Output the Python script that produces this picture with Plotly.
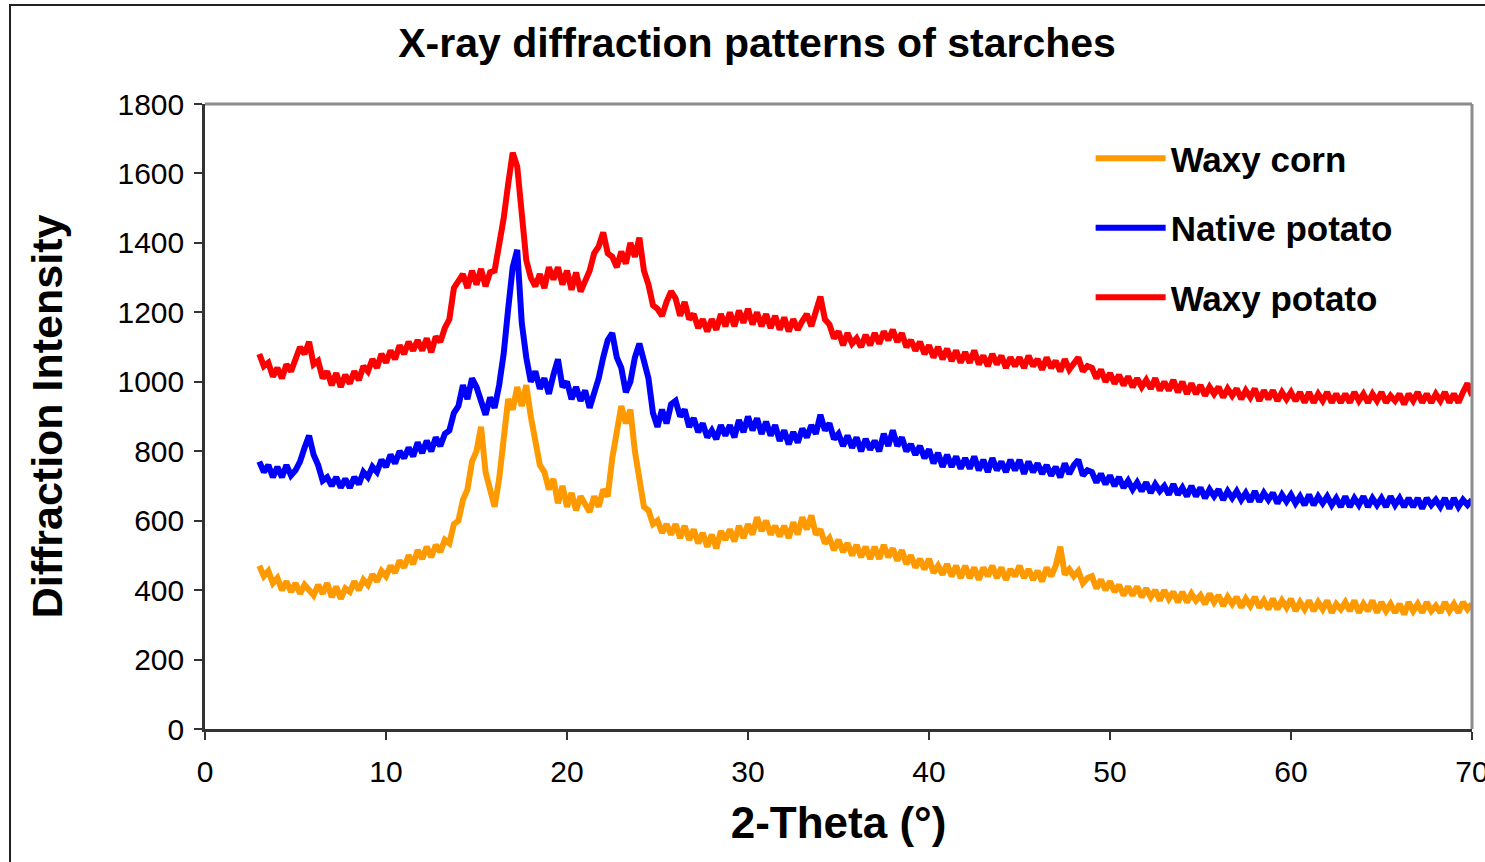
import numpy as np
import plotly.graph_objects as go

# 2-theta scan grid (degrees), 0.25 deg step
two_theta = np.round(np.arange(3.0, 70.001, 0.25), 2)

# intensities, four readings per degree
waxy_corn = [
    470, 440, 455, 420,
    435, 400, 425, 395,
    420, 390, 415, 400,
    385, 415, 390, 420,
    380, 410, 375, 405,
    395, 425, 400, 430,
    415, 445, 425, 455,
    440, 470, 450, 485,
    465, 500, 475, 515,
    490, 525, 495, 530,
    510, 545, 535, 590,
    600, 660, 690, 770,
    800, 870, 740, 690,
    640, 720, 830, 950,
    920, 985, 930, 990,
    900, 840, 760, 740,
    690, 720, 650, 700,
    640, 680, 630, 670,
    650, 625, 670, 640,
    690, 670, 780, 860,
    930, 880, 920, 800,
    710, 640, 630, 590,
    600, 565, 590, 560,
    590, 550, 585, 545,
    575, 535, 565, 525,
    560, 520, 570, 545,
    575, 540, 585, 550,
    590, 560, 610, 570,
    600, 560, 585, 555,
    585, 550, 595, 560,
    610, 575, 615, 560,
    575, 535, 550, 515,
    545, 510, 535, 500,
    530, 495, 525, 490,
    525, 490, 530, 495,
    520, 485, 515, 475,
    500, 465, 490, 460,
    490, 450, 470, 445,
    475, 440, 470, 435,
    470, 435, 465, 430,
    465, 440, 470, 435,
    465, 430, 460, 440,
    470, 435, 460, 430,
    455, 425, 465, 440,
    470, 525, 445, 460,
    440, 455, 420, 435,
    440, 405, 430, 400,
    425, 395, 415, 385,
    410, 385, 410, 380,
    405, 380, 400, 370,
    400, 375, 395, 365,
    395, 365, 390, 370,
    385, 360, 390, 365,
    385, 355, 380, 360,
    380, 350, 375, 355,
    380, 350, 370, 345,
    375, 345, 370, 350,
    375, 340, 365, 345,
    370, 340, 365, 345,
    370, 335, 360, 345,
    365, 340, 370, 335,
    360, 340, 370, 335,
    365, 340, 360, 335,
    360, 330, 365, 340,
    360, 335, 365, 340,
    355, 335, 365, 340,
    360, 335, 365, 345,
    360,
]

native_potato = [
    770, 740, 760, 725,
    755, 725, 760, 730,
    745, 770, 810, 845,
    790, 760, 715, 725,
    700, 725, 695, 720,
    695, 725, 705, 740,
    725, 755, 740, 775,
    755, 790, 765, 800,
    780, 810, 785, 825,
    795, 830, 800, 840,
    815, 850, 860, 910,
    930, 990, 950, 1010,
    985, 940, 905, 955,
    925, 990, 1080, 1210,
    1330, 1380, 1170, 1070,
    1000, 1030, 980, 1010,
    965, 1020, 1065, 985,
    1000, 950, 985, 945,
    975, 925, 965, 1010,
    1070, 1120, 1140, 1070,
    1040, 970, 1000, 1070,
    1110, 1050, 1010, 910,
    870, 920, 880, 935,
    945, 900, 920, 870,
    895, 855, 880, 840,
    860, 835, 875, 845,
    875, 840, 890, 855,
    900, 860, 895, 850,
    885, 845, 875, 830,
    860, 820, 855, 825,
    865, 840, 875, 850,
    905, 860, 880, 835,
    850, 815, 845, 810,
    840, 800, 835, 805,
    830, 800, 850, 815,
    860, 815, 840, 800,
    820, 790, 815, 780,
    805, 765, 795, 755,
    790, 755, 785, 750,
    780, 750, 785, 745,
    775, 740, 780, 745,
    770, 740, 775, 745,
    775, 735, 770, 740,
    765, 735, 760, 730,
    755, 725, 765, 735,
    760, 775, 730, 745,
    740, 710, 735, 705,
    730, 700, 725, 695,
    715, 690, 710, 685,
    710, 680, 705, 685,
    700, 675, 705, 675,
    695, 670, 700, 670,
    695, 665, 690, 670,
    690, 660, 685, 665,
    685, 660, 680, 655,
    685, 655, 680, 660,
    680, 650, 675, 655,
    675, 650, 670, 645,
    675, 645, 670, 650,
    670, 645, 665, 640,
    670, 640, 665, 645,
    670, 640, 665, 645,
    665, 640, 670, 645,
    665, 640, 665, 640,
    665, 635, 665, 645,
    660, 640, 665, 635,
    665, 640, 660, 645,
    660,
]

waxy_potato = [
    1080, 1045, 1055, 1015,
    1040, 1010, 1050, 1030,
    1065, 1100, 1080, 1115,
    1050, 1060, 1010, 1030,
    990, 1025, 985, 1020,
    995, 1030, 1005, 1045,
    1030, 1065, 1040, 1080,
    1055, 1090, 1065, 1105,
    1080, 1115, 1090, 1120,
    1090, 1125, 1085, 1130,
    1115, 1155, 1180, 1270,
    1290, 1310, 1270, 1320,
    1280, 1325, 1275, 1315,
    1320, 1390, 1470, 1570,
    1660, 1620, 1460, 1350,
    1300, 1275, 1310, 1270,
    1330, 1295, 1330, 1280,
    1320, 1265, 1315, 1260,
    1290, 1320, 1370, 1390,
    1430, 1370, 1360, 1330,
    1375, 1340, 1400, 1360,
    1415, 1320, 1280, 1220,
    1210, 1190, 1230, 1260,
    1240, 1190, 1230, 1180,
    1195, 1155, 1180, 1145,
    1180, 1150, 1195, 1160,
    1200, 1160, 1205, 1170,
    1210, 1165, 1200, 1160,
    1195, 1155, 1190, 1150,
    1185, 1145, 1180, 1150,
    1175, 1195, 1160, 1200,
    1245, 1180, 1165, 1125,
    1145, 1105, 1140, 1110,
    1125, 1100, 1135, 1105,
    1140, 1110, 1145, 1120,
    1150, 1115, 1140, 1100,
    1120, 1090, 1115, 1080,
    1105, 1070, 1100, 1065,
    1095, 1060, 1090, 1055,
    1085, 1055, 1090, 1050,
    1075, 1045, 1080, 1050,
    1075, 1040, 1070, 1045,
    1070, 1040, 1075, 1045,
    1065, 1035, 1070, 1040,
    1060, 1030, 1065, 1035,
    1055, 1070, 1030, 1045,
    1040, 1010, 1035, 1000,
    1025, 995, 1020, 990,
    1015, 985, 1010, 985,
    1005, 980, 1010, 975,
    1000, 975, 1005, 970,
    1000, 965, 995, 965,
    990, 960, 985, 965,
    985, 955, 980, 960,
    980, 950, 975, 955,
    980, 945, 975, 950,
    975, 945, 970, 950,
    970, 945, 970, 940,
    970, 940, 965, 945,
    970, 940, 965, 940,
    965, 940, 970, 945,
    965, 940, 965, 945,
    970, 940, 960, 945,
    965, 935, 965, 945,
    970, 940, 965, 940,
    965, 945, 970, 940,
    965, 940, 970, 995,
    960,
]

FONT = "Liberation Sans, Arial, sans-serif"

fig = go.Figure()

# drawing order: blue and red underneath, orange on top
series = [
    ("Native potato", native_potato, "#0000FF", 2),
    ("Waxy potato", waxy_potato, "#FF0000", 3),
    ("Waxy corn", waxy_corn, "#FF9900", 1),
]
for name, vals, color, rank in series:
    fig.add_trace(go.Scatter(
        x=two_theta, y=vals, mode="lines", name=name,
        line=dict(color=color, width=6),
        legendrank=rank, legendgroup=name,
    ))

fig.update_layout(
    width=1485, height=862,
    margin=dict(l=205, r=13, t=104, b=133),
    paper_bgcolor="white", plot_bgcolor="white",
    title=dict(
        text="<b>X-ray diffraction patterns of starches</b>",
        x=0.4357, xref="paper", xanchor="center",
        y=0.950, yref="container", yanchor="middle",
        font=dict(family=FONT, size=41, color="black"),
    ),
    showlegend=True,
    legend=dict(
        x=0.699, y=0.96, xanchor="left", yanchor="top",
        font=dict(family=FONT, size=35, color="black", weight="bold"),
        itemwidth=70, tracegroupgap=21,
        bgcolor="rgba(0,0,0,0)",
    ),
    xaxis=dict(
        range=[0, 70], dtick=10, tick0=0,
        showgrid=False, zeroline=False, automargin=False,
        showline=True, linecolor="#333333", linewidth=2.5,
        ticks="outside", ticklen=8, tickwidth=1.5, tickcolor="#333333",
        ticklabelstandoff=6, ticklabeloverflow="allow",
        tickfont=dict(family=FONT, size=30, color="black"),
        title=dict(text="<b>2-Theta (°)</b>", standoff=21,
                   font=dict(family=FONT, size=44, color="black")),
    ),
    yaxis=dict(
        range=[0, 1800], dtick=200, tick0=0,
        showgrid=False, zeroline=False,
        showline=True, linecolor="#333333", linewidth=2.5,
        ticks="outside", ticklen=8, tickwidth=1.5, tickcolor="#333333",
        ticklabelstandoff=4,
        tickfont=dict(family=FONT, size=30, color="black"),
        title=dict(text="<b>Diffraction Intensity</b>", standoff=42,
                   font=dict(family=FONT, size=43, color="black")),
    ),
    shapes=[
        # gray frame on top and right of the plotting area
        dict(type="line", xref="paper", yref="paper", x0=0, x1=1, y0=1, y1=1,
             line=dict(color="#8C8C8C", width=3)),
        dict(type="line", xref="paper", yref="paper", x0=1, x1=1, y0=0, y1=1,
             line=dict(color="#8C8C8C", width=3)),
        # outer chart border
        dict(type="rect", xref="paper", yref="paper",
             x0=-0.1539, x1=1.05, y0=-0.25, y1=1.1584,
             line=dict(color="#222222", width=2), layer="below"),
    ],
)

fig.write_html("out.html")
